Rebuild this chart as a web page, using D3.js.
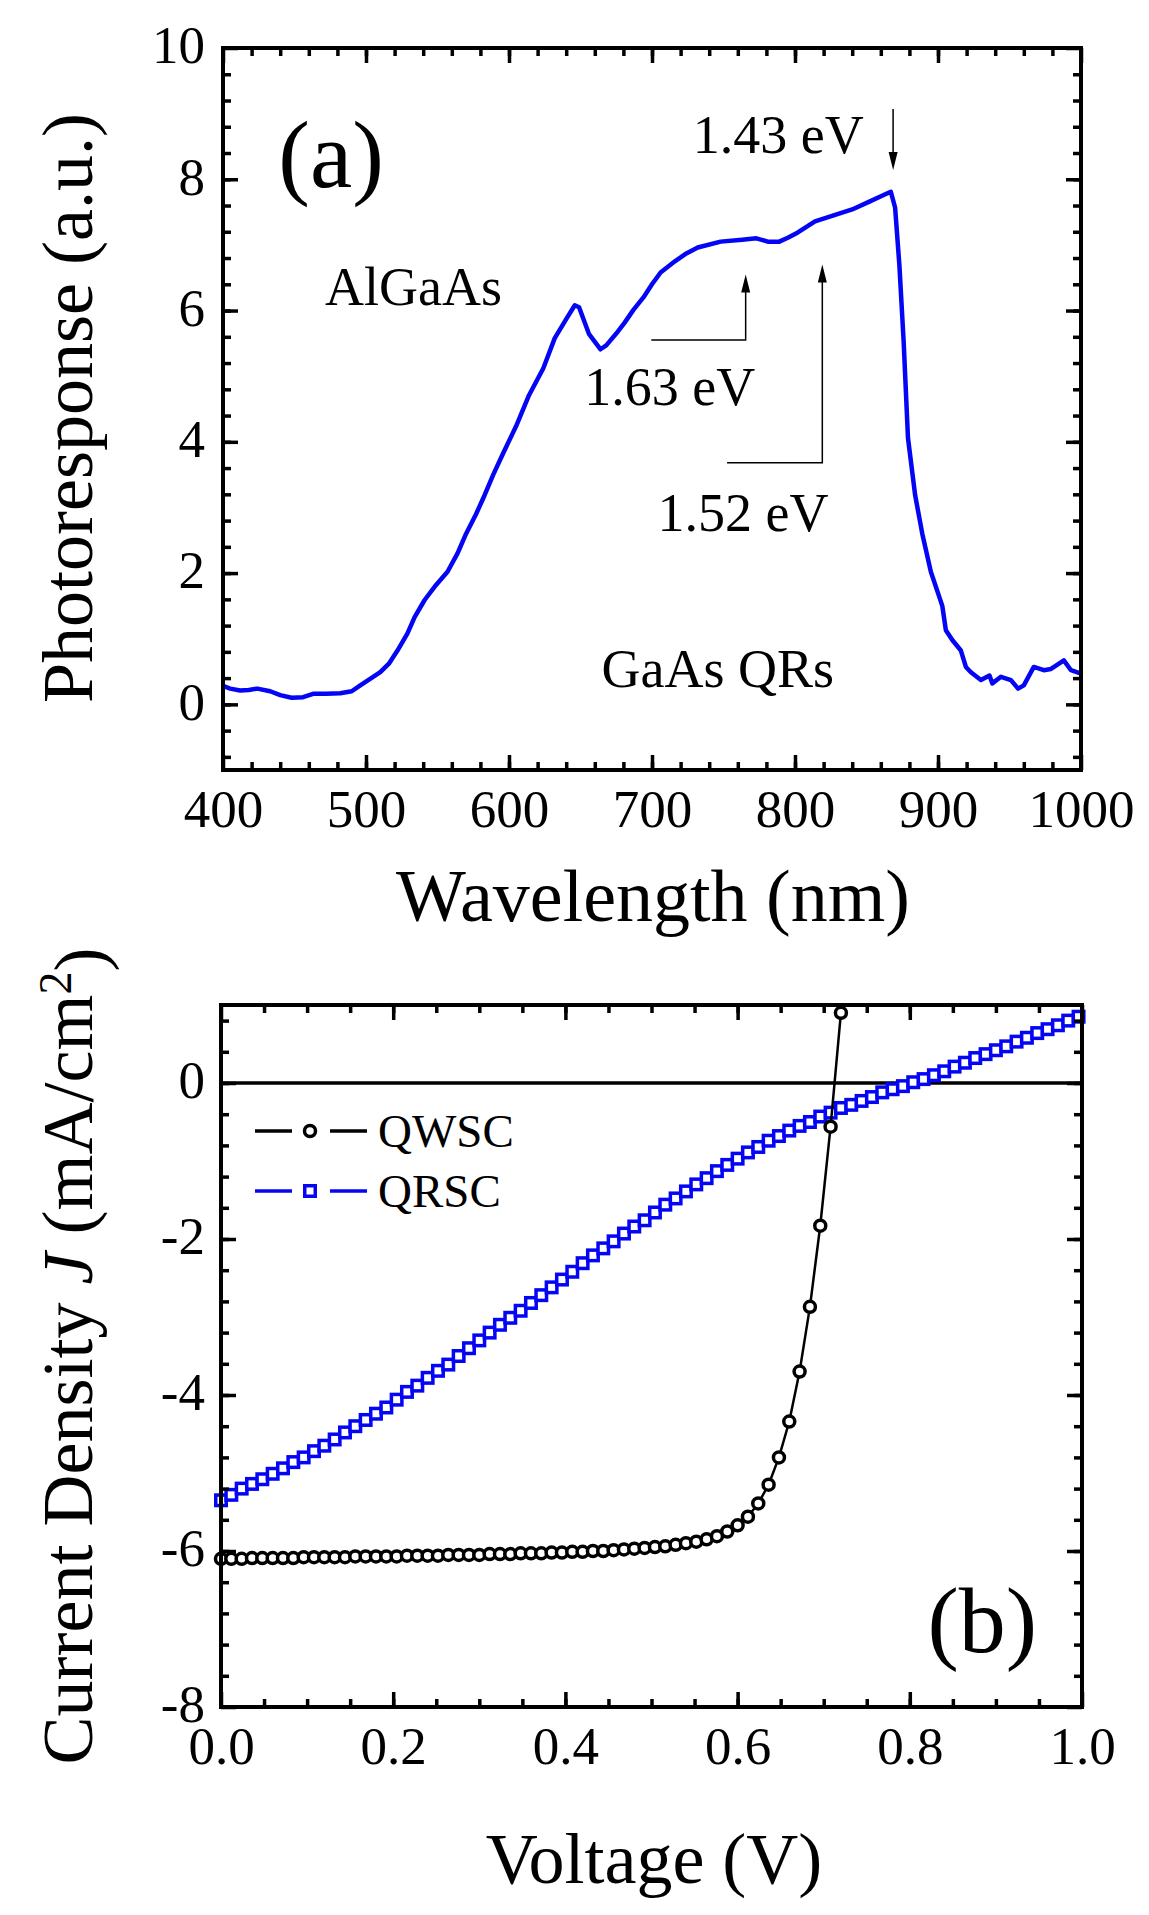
<!DOCTYPE html>
<html>
<head>
<meta charset="utf-8">
<script src="https://cdn.jsdelivr.net/npm/d3@7"></script>
<style>
  body { margin: 0; background: #fff; }
  svg { display: block; font-family: "Liberation Serif", "Times New Roman", serif; }
</style>
</head>
<body>
<svg id="fig" width="1149" height="1915"></svg>
<script>
/* global d3 */

// ---- panel (a): photoresponse spectrum ----
var wavelength = [400, 405, 412, 418, 424, 433, 440, 448, 456, 463, 472, 482, 490, 496, 505, 510,
    516, 522, 529, 534, 541, 549, 557, 564, 570, 577, 583, 589, 596, 605, 614, 624, 632, 640, 646,
    649, 656, 664, 668, 675, 681, 687, 694, 700, 706, 716, 724, 732, 748, 763, 773, 781, 789, 795,
    802, 814, 827, 840, 852, 862, 867, 870, 873, 876, 879, 884, 889, 895, 903, 905.5, 910, 916,
    919.5, 923, 930, 936, 938, 944, 951, 956, 960, 967, 974, 979, 982.5, 988, 993, 1000];
var photoresponse = [0.28, 0.24, 0.21, 0.22, 0.24, 0.20, 0.14, 0.10, 0.11, 0.16, 0.16, 0.17, 0.20,
    0.29, 0.42, 0.49, 0.62, 0.82, 1.08, 1.33, 1.59, 1.82, 2.02, 2.30, 2.60, 2.90, 3.19, 3.50, 3.83,
    4.24, 4.71, 5.12, 5.58, 5.87, 6.08, 6.05, 5.64, 5.41, 5.47, 5.65, 5.82, 6.01, 6.20, 6.40, 6.58,
    6.75, 6.87, 6.96, 7.05, 7.08, 7.10, 7.05, 7.05, 7.11, 7.19, 7.36, 7.45, 7.54, 7.66, 7.76, 7.81,
    7.57, 6.69, 5.52, 4.06, 3.19, 2.60, 2.02, 1.50, 1.13, 0.98, 0.82, 0.57, 0.49, 0.37, 0.44, 0.32,
    0.42, 0.37, 0.24, 0.29, 0.57, 0.52, 0.54, 0.59, 0.67, 0.52, 0.47];

var wavelengthTicks = [400, 500, 600, 700, 800, 900, 1000];
var responseTicks = [0, 2, 4, 6, 8, 10];

// arrows: polyline points in data units, last point is the arrow tip
var arrowsA = [
    [[868.6, 9.07], [868.6, 8.14]],
    [[699.5, 5.55], [765.5, 5.55], [765.5, 6.55]],
    [[752.5, 3.68], [819.1, 3.68], [819.1, 6.70]]
];
var labelsA = [
    { text: "1.43 eV", x: 848.1, y: 8.40, anchor: "end" },
    { text: "1.63 eV", x: 652.6, y: 4.56, anchor: "start" },
    { text: "1.52 eV", x: 703.9, y: 2.64, anchor: "start" },
    { text: "AlGaAs", x: 471.4, y: 6.08, anchor: "start" },
    { text: "GaAs QRs", x: 664.7, y: 0.27, anchor: "start" }
];

// ---- panel (b): J-V curves ----
var qwscVoltage = [0.000, 0.012, 0.024, 0.036, 0.048, 0.060, 0.072, 0.084, 0.096, 0.108, 0.120,
    0.132, 0.144, 0.156, 0.168, 0.180, 0.192, 0.204, 0.216, 0.228, 0.240, 0.252, 0.264, 0.276,
    0.288, 0.300, 0.312, 0.324, 0.336, 0.348, 0.360, 0.372, 0.384, 0.396, 0.408, 0.420, 0.432,
    0.444, 0.456, 0.468, 0.480, 0.492, 0.504, 0.516, 0.528, 0.540, 0.552, 0.564, 0.576, 0.588,
    0.600, 0.612, 0.624, 0.636, 0.648, 0.660, 0.672, 0.684, 0.696, 0.708, 0.720];
var qwscCurrent = [-6.10, -6.10, -6.10, -6.09, -6.09, -6.09, -6.09, -6.09, -6.08, -6.08, -6.08,
    -6.08, -6.08, -6.07, -6.07, -6.07, -6.07, -6.07, -6.06, -6.06, -6.06, -6.06, -6.05, -6.05,
    -6.05, -6.05, -6.04, -6.04, -6.04, -6.03, -6.03, -6.03, -6.02, -6.02, -6.01, -6.01, -6.00,
    -6.00, -5.99, -5.98, -5.97, -5.96, -5.95, -5.94, -5.92, -5.90, -5.88, -5.85, -5.81, -5.75,
    -5.67, -5.56, -5.39, -5.15, -4.80, -4.34, -3.70, -2.87, -1.83, -0.56, 0.90];

var qrscVoltage = [0.000, 0.012, 0.024, 0.036, 0.048, 0.060, 0.072, 0.084, 0.096, 0.108, 0.120,
    0.132, 0.144, 0.156, 0.168, 0.180, 0.192, 0.204, 0.216, 0.228, 0.240, 0.252, 0.264, 0.276,
    0.288, 0.300, 0.312, 0.324, 0.336, 0.348, 0.360, 0.372, 0.384, 0.396, 0.408, 0.420, 0.432,
    0.444, 0.456, 0.468, 0.480, 0.492, 0.504, 0.516, 0.528, 0.540, 0.552, 0.564, 0.576, 0.588,
    0.600, 0.612, 0.624, 0.636, 0.648, 0.660, 0.672, 0.684, 0.696, 0.708, 0.720, 0.732, 0.744,
    0.756, 0.768, 0.780, 0.792, 0.804, 0.816, 0.828, 0.840, 0.852, 0.864, 0.876, 0.888, 0.900,
    0.912, 0.924, 0.936, 0.948, 0.960, 0.972, 0.984, 0.996];
var qrscCurrent = [-5.35, -5.28, -5.20, -5.14, -5.08, -5.01, -4.94, -4.86, -4.80, -4.72, -4.65,
    -4.57, -4.48, -4.40, -4.32, -4.24, -4.16, -4.06, -3.96, -3.88, -3.78, -3.69, -3.61, -3.50,
    -3.40, -3.30, -3.20, -3.10, -3.01, -2.92, -2.82, -2.72, -2.62, -2.52, -2.42, -2.31, -2.21,
    -2.12, -2.03, -1.93, -1.84, -1.76, -1.66, -1.56, -1.48, -1.39, -1.30, -1.22, -1.13, -1.05,
    -0.97, -0.89, -0.82, -0.74, -0.68, -0.61, -0.55, -0.50, -0.43, -0.38, -0.32, -0.28, -0.23,
    -0.18, -0.12, -0.08, -0.04, 0.01, 0.05, 0.10, 0.15, 0.21, 0.26, 0.32, 0.37, 0.42, 0.47, 0.53,
    0.58, 0.64, 0.69, 0.74, 0.80, 0.85];

var voltageTicks = [0, 0.2, 0.4, 0.6, 0.8, 1.0];
var currentTicks = [-8, -6, -4, -2, 0];
var seriesNames = ["QWSC", "QRSC"];

var svg = d3.select("#fig");
svg.append("rect").attr("width", 1149).attr("height", 1915).attr("fill", "#fff");

var tickFont = 53, majorLen = 15, minorLen = 8;
var blue = "#0505f5";

// plain hyphen for negatives, like the original figure
function intFmt(d) { return String(d); }

function styleAxis(sel) {
    sel.attr("font-size", null).attr("font-family", null);
    sel.select(".domain").remove();
    sel.selectAll("line").attr("stroke", "#000").attr("stroke-width", 3.5);
    sel.selectAll("text").attr("fill", "#000").style("font-size", tickFont + "px");
}

function drawFrame(g, x, y, cfg) {
    var w = x.range()[1], h = y.range()[0];

    // minor ticks on all four sides
    [["bottom", h], ["top", 0]].forEach(function (s) {
        var ax = (s[0] === "bottom" ? d3.axisBottom(x) : d3.axisTop(x))
            .tickValues(cfg.xMinor).tickSize(-minorLen).tickFormat("");
        g.append("g").attr("transform", "translate(0," + s[1] + ")").call(ax).call(styleAxis);
    });
    [["left", 0], ["right", w]].forEach(function (s) {
        var ax = (s[0] === "left" ? d3.axisLeft(y) : d3.axisRight(y))
            .tickValues(cfg.yMinor).tickSize(-minorLen).tickFormat("");
        g.append("g").attr("transform", "translate(" + s[1] + ",0)").call(ax).call(styleAxis);
    });

    // major ticks + labels
    g.append("g").attr("transform", "translate(0," + h + ")")
        .call(d3.axisBottom(x).tickValues(cfg.xMajor).tickSize(-majorLen).tickPadding(cfg.xPad).tickFormat(cfg.xFmt))
        .call(styleAxis);
    g.append("g")
        .call(d3.axisTop(x).tickValues(cfg.xMajor).tickSize(-majorLen).tickFormat(""))
        .call(styleAxis);
    g.append("g")
        .call(d3.axisLeft(y).tickValues(cfg.yMajor).tickSize(-majorLen).tickPadding(cfg.yPad).tickFormat(cfg.yFmt))
        .call(styleAxis)
        .selectAll("text").attr("dy", "0.28em");
    g.append("g").attr("transform", "translate(" + w + ",0)")
        .call(d3.axisRight(y).tickValues(cfg.yMajor).tickSize(-majorLen).tickFormat(""))
        .call(styleAxis);

    g.append("rect")
        .attr("width", w).attr("height", h)
        .attr("fill", "none").attr("stroke", "#000").attr("stroke-width", 4);
}

// ===================== panel (a) =====================
var gA = svg.append("g").attr("transform", "translate(223,48)");
var xA = d3.scaleLinear().domain([400, 1000]).range([0, 858]);
var yA = d3.scaleLinear().domain([-1, 10]).range([722, 0]);

var specLine = d3.line()
    .x(function (d, i) { return xA(wavelength[i]); })
    .y(function (d) { return yA(d); });

gA.append("path")
    .datum(photoresponse)
    .attr("fill", "none")
    .attr("stroke", blue)
    .attr("stroke-width", 4.5)
    .attr("stroke-linejoin", "round")
    .attr("d", specLine);

drawFrame(gA, xA, yA, {
    xMajor: wavelengthTicks, xMinor: d3.range(420, 1000, 20),
    yMajor: responseTicks, yMinor: d3.range(-0.8, 10, 0.4),
    xFmt: intFmt, yFmt: intFmt, xPad: 19, yPad: 18
});

// arrows
arrowsA.forEach(function (pts) {
    var p = pts.map(function (d) { return [xA(d[0]), yA(d[1])]; });
    var tip = p[p.length - 1], prev = p[p.length - 2];
    var dir = tip[1] < prev[1] ? 1 : -1; // 1 = arrow points up
    gA.append("path")
        .attr("d", d3.line()(p.slice(0, -1).concat([[tip[0], tip[1] + dir * 12]])))
        .attr("fill", "none").attr("stroke", "#000").attr("stroke-width", 1.5);
    gA.append("path")
        .attr("d", "M" + tip[0] + "," + tip[1] +
            "L" + (tip[0] - 4.5) + "," + (tip[1] + dir * 18) +
            "L" + (tip[0] + 4.5) + "," + (tip[1] + dir * 18) + "Z")
        .attr("fill", "#000");
});

gA.selectAll("text.note")
    .data(labelsA)
    .enter().append("text")
    .attr("class", "note")
    .attr("x", function (d) { return xA(d.x); })
    .attr("y", function (d) { return yA(d.y); })
    .attr("text-anchor", function (d) { return d.anchor; })
    .style("font-size", "54px")
    .text(function (d) { return d.text; });

gA.append("text")
    .attr("x", xA(438.7)).attr("y", yA(7.88))
    .style("font-size", "95px")
    .text("(a)");

svg.append("text")
    .attr("x", 653).attr("y", 921)
    .attr("text-anchor", "middle")
    .style("font-size", "74px")
    .text("Wavelength (nm)");

svg.append("text")
    .attr("transform", "translate(92,408)rotate(-90)")
    .attr("text-anchor", "middle")
    .style("font-size", "72px")
    .text("Photoresponse (a.u.)");

// ===================== panel (b) =====================
var gB = svg.append("g").attr("transform", "translate(221,1005)");
var xB = d3.scaleLinear().domain([0, 1]).range([0, 861]);
var yB = d3.scaleLinear().domain([-8, 1]).range([702, 0]);

gB.append("line")
    .attr("x1", 0).attr("x2", 861)
    .attr("y1", yB(0)).attr("y2", yB(0))
    .attr("stroke", "#000").attr("stroke-width", 3.5);

var qwsc = qwscVoltage.map(function (v, i) { return [v, qwscCurrent[i]]; });
var qrsc = qrscVoltage.map(function (v, i) { return [v, qrscCurrent[i]]; });

var jvLine = d3.line()
    .x(function (d) { return xB(d[0]); })
    .y(function (d) { return yB(d[1]); });

gB.append("path").datum(qrsc)
    .attr("fill", "none").attr("stroke", blue).attr("stroke-width", 2.5)
    .attr("d", jvLine);
gB.selectAll("rect.qr").data(qrsc).enter().append("rect")
    .attr("class", "qr")
    .attr("x", function (d) { return xB(d[0]) - 5.25; })
    .attr("y", function (d) { return yB(d[1]) - 5.25; })
    .attr("width", 10.5).attr("height", 10.5)
    .attr("fill", "#fff").attr("stroke", blue).attr("stroke-width", 3.5);

gB.append("path").datum(qwsc)
    .attr("fill", "none").attr("stroke", "#000").attr("stroke-width", 2.5)
    .attr("d", jvLine);
gB.selectAll("circle.qw").data(qwsc).enter().append("circle")
    .attr("class", "qw")
    .attr("cx", function (d) { return xB(d[0]); })
    .attr("cy", function (d) { return yB(d[1]); })
    .attr("r", 5.5)
    .attr("fill", "#fff").attr("stroke", "#000").attr("stroke-width", 3.5);

drawFrame(gB, xB, yB, {
    xMajor: voltageTicks, xMinor: d3.range(0.05, 1, 0.05),
    yMajor: currentTicks, yMinor: d3.range(-7.6, 1, 0.4),
    xFmt: d3.format(".1f"), yFmt: intFmt, xPad: 19.5, yPad: 16
});

// legend
var legend = gB.append("g").attr("transform", "translate(34,126)");
seriesNames.forEach(function (name, i) {
    var row = legend.append("g").attr("transform", "translate(0," + (i * 60) + ")");
    var col = i === 0 ? "#000" : blue;
    row.append("line").attr("x1", 0).attr("x2", 37).attr("stroke", col).attr("stroke-width", 3.5);
    row.append("line").attr("x1", 75).attr("x2", 112).attr("stroke", col).attr("stroke-width", 3.5);
    if (i === 0) {
        row.append("circle").attr("cx", 55).attr("r", 5.5)
            .attr("fill", "#fff").attr("stroke", col).attr("stroke-width", 3.5);
    } else {
        row.append("rect").attr("x", 49.75).attr("y", -5.25).attr("width", 10.5).attr("height", 10.5)
            .attr("fill", "#fff").attr("stroke", col).attr("stroke-width", 3.5);
    }
    row.append("text").attr("x", 123).attr("y", 16)
        .style("font-size", "47px").text(name);
});

gB.append("text")
    .attr("x", xB(0.8206)).attr("y", yB(-7.29))
    .style("font-size", "94px")
    .text("(b)");

svg.append("text")
    .attr("x", 654).attr("y", 1883)
    .attr("text-anchor", "middle")
    .style("font-size", "72px")
    .text("Voltage (V)");

var yTitle = svg.append("text")
    .attr("transform", "translate(92,1356)rotate(-90)")
    .attr("text-anchor", "middle")
    .style("font-size", "72px");
yTitle.append("tspan").text("Current Density ");
yTitle.append("tspan").style("font-style", "italic").text("J");
yTitle.append("tspan").text(" (mA/cm");
yTitle.append("tspan").attr("dy", "-0.45em").style("font-size", "46px").text("2");
yTitle.append("tspan").attr("dy", "0.45em").text(")");
</script>
</body>
</html>
